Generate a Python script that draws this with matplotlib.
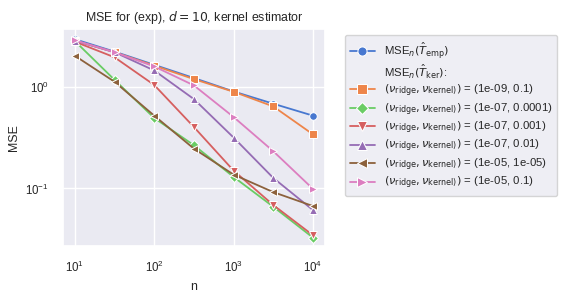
import matplotlib
matplotlib.use("Agg")
import matplotlib.pyplot as plt
import seaborn as sns
from matplotlib.lines import Line2D

sns.set_theme(style="darkgrid")
plt.rcParams['font.family'] = ['Liberation Sans', 'DejaVu Sans']
plt.rcParams['mathtext.fontset'] = 'dejavusans'

n_values = [10, 31.62, 100, 316.2, 1000, 3162, 10000]

mse_emp = [2.97, 2.24, 1.66, 1.23, 0.906, 0.686, 0.523]
mse_1e09_01 = [2.88, 2.21, 1.63, 1.20, 0.90, 0.645, 0.342]
mse_1e07_00001 = [2.85, 1.18, 0.496, 0.267, 0.130, 0.066, 0.0327]
mse_1e07_0001 = [2.81, 1.97, 1.05, 0.404, 0.150, 0.0686, 0.0345]
mse_1e07_001 = [2.88, 2.21, 1.46, 0.762, 0.318, 0.127, 0.0612]
mse_1e05_1e05 = [2.04, 1.13, 0.523, 0.247, 0.137, 0.092, 0.067]
mse_1e05_01 = [2.90, 2.21, 1.60, 1.04, 0.507, 0.233, 0.099]

ker_params = [("1e-09", "0.1"), ("1e-07", "0.0001"), ("1e-07", "0.001"),
              ("1e-07", "0.01"), ("1e-05", "1e-05"), ("1e-05", "0.1")]
ker_series = [mse_1e09_01, mse_1e07_00001, mse_1e07_0001, mse_1e07_001,
              mse_1e05_1e05, mse_1e05_01]

colors = sns.color_palette("muted")
markers = ["o", "s", "D", "v", "^", "<", ">"]

fig = plt.figure(figsize=(5.62, 3.03), dpi=100)
ax = fig.add_axes([0.112, 0.188, 0.466, 0.716])

lw = 1.3
ms = 5.5
handles = []
labels = []
h, = ax.plot(n_values, mse_emp, color=colors[0], marker=markers[0], lw=lw, ms=ms,
             mec="white", mew=0.75)
handles.append(h)
labels.append(r"MSE$_n(\hat{T}_{\mathrm{emp}})$")
handles.append(Line2D([], [], color="none"))
labels.append(r"MSE$_n(\hat{T}_{\mathrm{ker}})$:")
for i, (vals, (r, k)) in enumerate(zip(ker_series, ker_params)):
    h, = ax.plot(n_values, vals, color=colors[i + 1], marker=markers[i + 1], lw=lw,
                 ms=ms, mec="white", mew=0.75)
    handles.append(h)
    labels.append(r"$(\nu_{\mathrm{ridge}}, \nu_{\mathrm{kernel})})$ = (" + r + ", " + k + ")")

ax.set_xscale("log")
ax.set_yscale("log")
ax.set_xlim(10 ** 0.85, 10 ** 4.15)
ax.set_ylim(0.027, 3.74)
ax.minorticks_off()
ax.set_xticks([10, 100, 1000, 10000])
ax.set_yticks([0.1, 1])
ax.tick_params(labelsize=8.3, pad=4)
ax.set_xlabel("n", fontsize=8.9)
ax.set_ylabel("MSE", fontsize=8.9)
ax.set_title(r"MSE for (exp), $d = 10$, kernel estimator", fontsize=8.9)

fig.legend(handles, labels, loc="upper left", bbox_to_anchor=(0.614, 0.884),
           borderaxespad=0, fontsize=8.2, frameon=True, handlelength=2.2,
           markerscale=1.2, borderpad=0.4, labelspacing=0.18)

fig.savefig("out.png", dpi=100)
